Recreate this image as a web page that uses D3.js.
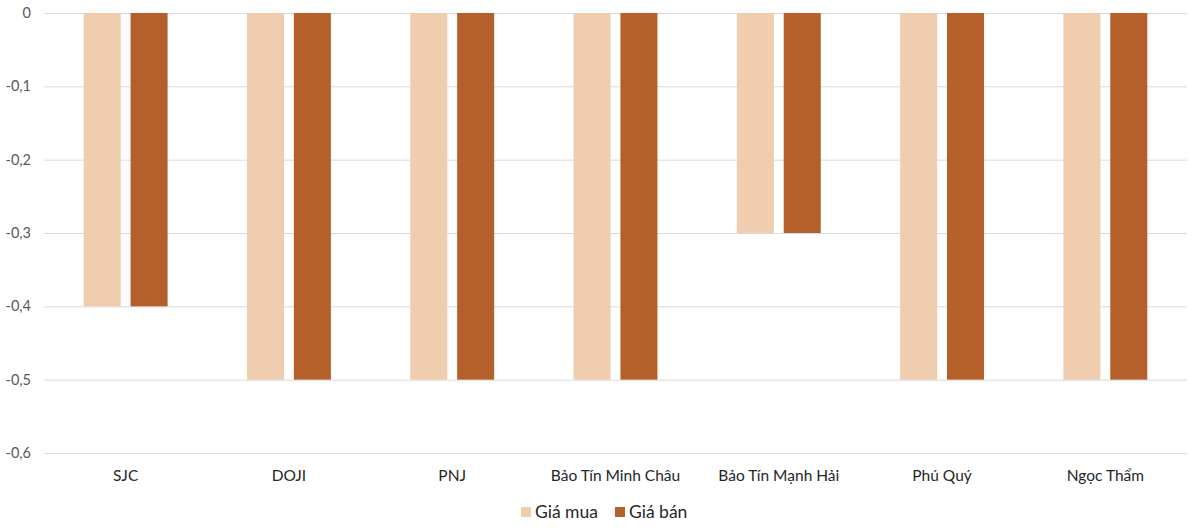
<!DOCTYPE html>
<html><head><meta charset="utf-8">
<script src="https://cdn.jsdelivr.net/npm/d3@7"></script>
<style>body{margin:0;background:#fff;}svg{display:block;font-family:Lato,"Open Sans",sans-serif;}</style>
</head><body><svg id="c" width="1200" height="532"></svg>
<script>
const categories = ["SJC","DOJI","PNJ","Bảo Tín Minh Châu","Bảo Tín Mạnh Hải","Phú Quý","Ngọc Thẩm"];
const seriesNames = ["Giá mua","Giá bán"];
const giaMua = [-0.4,-0.5,-0.5,-0.5,-0.3,-0.5,-0.5];
const giaBan = [-0.4,-0.5,-0.5,-0.5,-0.3,-0.5,-0.5];
const tickValues = [0,-0.1,-0.2,-0.3,-0.4,-0.5,-0.6];
const colors = ["#F1CDB0","#B5602A"];

const svg = d3.select("#c");
const x0 = d3.scaleBand().domain(categories).range([44,1187]).paddingInner(0.486).paddingOuter(0.243);
const x1 = d3.scaleBand().domain(seriesNames).range([0,x0.bandwidth()]).paddingInner(0.21);
const y = d3.scaleLinear().domain([-0.6,0]).range([453,13]);
const fmt = v => v === 0 ? "0" : d3.format(".1f")(v).replace("−","-").replace(".",",");

// grid
const yAxis = d3.axisLeft(y).tickValues(tickValues).tickSize(-(1187-44)).tickFormat(fmt).tickPadding(13);
const ga = svg.append("g").attr("transform","translate(44,0)").call(yAxis);
ga.select(".domain").remove();
ga.selectAll(".tick line").attr("stroke","#d9d9d9").attr("stroke-width",1);
ga.selectAll(".tick text").attr("fill","#595959").attr("font-size",14.5).attr("font-family","Lato,'Open Sans',sans-serif");

const data = categories.map((c,i)=>({cat:c, vals:[giaMua[i],giaBan[i]]}));
const g = svg.append("g");
data.forEach(d=>{
  d.vals.forEach((v,j)=>{
    g.append("rect")
      .attr("x", x0(d.cat)+x1(seriesNames[j]))
      .attr("y", y(0))
      .attr("width", x1.bandwidth())
      .attr("height", y(v)-y(0))
      .attr("fill", colors[j]);
  });
});

// x labels
const xAxis = d3.axisBottom(x0).tickSize(0).tickPadding(0);
const gx = svg.append("g").attr("transform","translate(0,469)").call(xAxis);
gx.select(".domain").remove();
gx.selectAll(".tick text").attr("fill","#262626").attr("font-size",15.5).attr("dy","0.8em").attr("font-family","Lato,'Open Sans',sans-serif");

// legend
const leg = svg.append("g");
const legX = [521,615];
seriesNames.forEach((s,j)=>{
  leg.append("rect").attr("x",legX[j]).attr("y",507).attr("width",10).attr("height",10).attr("fill",colors[j]);
  leg.append("text").attr("x",legX[j]+14).attr("y",512).attr("dy","0.35em").attr("font-size",17.5).attr("fill","#262626").text(s);
});
</script></body></html>
